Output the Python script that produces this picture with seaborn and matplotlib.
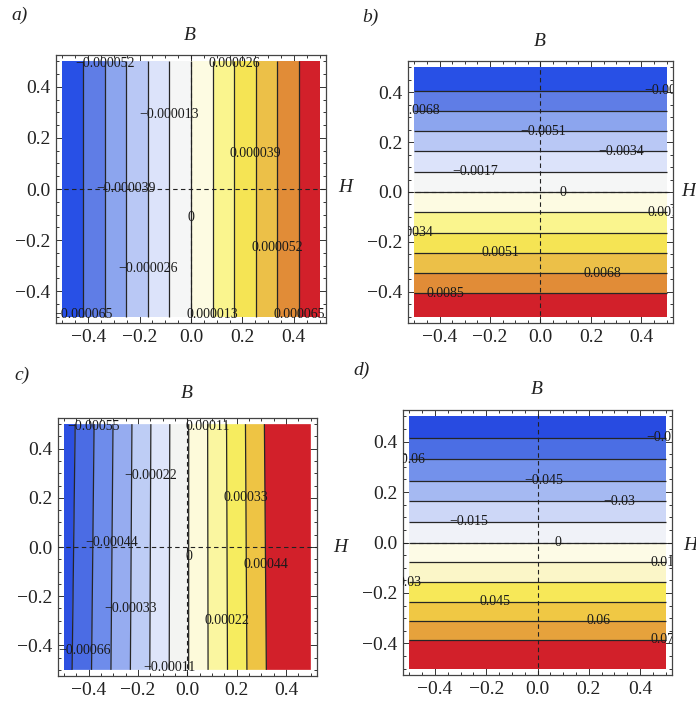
import numpy as np
import matplotlib
matplotlib.use("Agg")
import matplotlib.pyplot as plt
import seaborn as sns
from matplotlib.ticker import MultipleLocator, FuncFormatter

sns.set_theme(style="white")
plt.rcParams['font.family'] = ['Liberation Serif', 'DejaVu Serif']
plt.rcParams['axes.unicode_minus'] = True

# ---------------- data ----------------
# panel a: field on a coarse H x B grid (rows = B)
A_H = [-0.5, 0.5]
A_B = [-0.5, 0.5]
A_Z = [[-0.0000774, 0.0000774],
       [-0.0000774, 0.0000774]]
A_LEVELS = [-0.000065, -0.000052, -0.000039, -0.000026, -0.000013, 0.0,
            0.000013, 0.000026, 0.000039, 0.000052, 0.000065]

# panel b
B_H = [-0.5, 0.5]
B_B = [-0.5, 0.5]
B_Z = [[0.01045, 0.01045],
       [-0.01045, -0.01045]]
B_LEVELS = [-0.0085, -0.0068, -0.0051, -0.0034, -0.0017, 0.0,
            0.0017, 0.0034, 0.0051, 0.0068, 0.0085]

# panel c
C_H = [-0.5, 0.5]
C_B = [-0.5, 0.5]
C_Z = [[-0.000705, 0.000692],
       [-0.000724, 0.000710]]
C_LEVELS = [-0.00066, -0.00055, -0.00044, -0.00033, -0.00022, -0.00011, 0.0,
            0.00011, 0.00022, 0.00033, 0.00044]

# panel d
D_H = [-0.5, 0.5]
D_B = [-0.5, -0.25, 0.0, 0.25, 0.5]
D_Z = [[0.0978, 0.0978],
       [0.0479, 0.0479],
       [0.0, 0.0],
       [-0.0459, -0.0459],
       [-0.0899, -0.0899]]
D_LEVELS = [-0.075, -0.06, -0.045, -0.03, -0.015, 0.0,
            0.015, 0.03, 0.045, 0.06, 0.075]

# ---------------- styles ----------------
A_COLORS = ['#2850e6', '#5f7de6', '#8ca5ee', '#b9c8f5', '#dce3fa', '#f5f6f6',
            '#fdfbe2', '#faf58e', '#f5e454', '#ecc048', '#e18c37', '#d2202a']
B_COLORS = A_COLORS
C_COLORS = ['#2d50e1', '#4b6ce4', '#6e8ceb', '#96acf0', '#becdf5', '#dee5fa',
            '#f3f4f2', '#fdfada', '#faf6a0', '#f6ec5f', '#eec444', '#d2202a']
D_COLORS = ['#284be1', '#4b6ee4', '#7391eb', '#a5b9f2', '#cdd7f7', '#f0f2f8',
            '#fdfbe6', '#fbf6c8', '#f7e858', '#f0c844', '#e6a23c', '#d2202a']

# label anchor points (placement of the contour labels)
A_LAB = [(-0.34, 0.49), (-0.09, 0.29), (0.16, 0.49), (0.245, 0.14), (-0.24, 0.0),
         (0.0, -0.11), (0.34, -0.23), (-0.17, -0.31), (-0.41, -0.49),
         (0.08, -0.49), (0.415, -0.49)]
B_LAB = [(0.5, 0.41), (-0.49, 0.33), (0.01, 0.245), (0.32, 0.165), (-0.26, 0.08),
         (0.09, 0.0), (0.5, -0.08), (-0.5, -0.165), (-0.16, -0.245),
         (0.245, -0.325), (-0.375, -0.405)]
C_LAB = [(-0.38, 0.49), (0.07, 0.49), (-0.155, 0.29), (0.225, 0.2), (-0.31, 0.02),
         (0.0, -0.04), (0.305, -0.07), (-0.235, -0.25), (0.15, -0.3),
         (-0.46, -0.42), (-0.06, -0.49)]
D_LAB = [(0.5, 0.415), (-0.5, 0.33), (0.025, 0.245), (0.32, 0.16), (-0.27, 0.08),
         (0.08, 0.0), (0.5, -0.082), (-0.5, -0.16), (-0.165, -0.236),
         (0.24, -0.312), (0.5, -0.386)]

FIG_W, FIG_H = 696, 705
fig = plt.figure(figsize=(FIG_W / 100, FIG_H / 100), dpi=100)
fig.patch.set_facecolor('white')


def px_rect(left, right, top, bottom):
    return [left / FIG_W, 1 - bottom / FIG_H, (right - left) / FIG_W, (bottom - top) / FIG_H]


def fmt_level(v):
    if abs(v) < 1e-12:
        return "0"
    s = f"{v:.6f}".rstrip('0').rstrip('.')
    return s.replace('-', '\u2212')


def tick_fmt(v, pos):
    if abs(v) < 1e-9:
        return "0.0"
    return f"{v:.1f}".replace('-', '\u2212')


def panel(rect, H, B, Z, levels, colors, labpos, letter, letter_xy, b_xy, h_xy,
          keep_inside=()):
    ax = fig.add_axes(rect)
    Hg, Bg = np.meshgrid(np.asarray(H, float), np.asarray(B, float))
    Zg = np.asarray(Z, float)
    zmax = np.abs(Zg).max() * 1.5
    bounds = [-zmax] + list(levels) + [zmax]
    ax.contourf(Hg, Bg, Zg, levels=bounds, colors=colors, antialiased=True)
    cs = ax.contour(Hg, Bg, Zg, levels=levels, colors='#262626',
                    linewidths=0.9, linestyles='solid')
    ax.axhline(0, color='#222222', lw=0.8, ls=(0, (4, 3)), zorder=3)
    ax.axvline(0, color='#222222', lw=0.8, ls=(0, (4, 3)), zorder=3)
    texts = ax.clabel(cs, levels=levels, inline=False, fmt=fmt_level,
                      fontsize=10, colors='#1a1a1a', manual=labpos)
    for t in texts:
        t.set_rotation(0)
        t.set_clip_on(True)
        t.set_clip_path(ax.patch)
        t.set_zorder(5)
        if t.get_text() in keep_inside:
            x, y = t.get_position()
            t.set_horizontalalignment('left')
            t.set_position((-0.522, y))
    ax.set_xlim(-0.525, 0.525)
    ax.set_ylim(-0.525, 0.525)
    ax.xaxis.set_major_locator(MultipleLocator(0.2))
    ax.yaxis.set_major_locator(MultipleLocator(0.2))
    ax.xaxis.set_minor_locator(MultipleLocator(0.05))
    ax.yaxis.set_minor_locator(MultipleLocator(0.05))
    ax.xaxis.set_major_formatter(FuncFormatter(tick_fmt))
    ax.yaxis.set_major_formatter(FuncFormatter(tick_fmt))
    ax.tick_params(which='both', direction='in', top=True, right=True,
                   bottom=True, left=True, color='#333333', width=0.7)
    ax.tick_params(which='major', length=5, labelsize=14, labelcolor='#222222', pad=4)
    ax.tick_params(which='minor', length=2.5)
    for sp in ax.spines.values():
        sp.set_color('#444444')
        sp.set_linewidth(0.9)
        sp.set_visible(True)
    ax.grid(False)
    fig.text(letter_xy[0] / FIG_W, 1 - letter_xy[1] / FIG_H, letter, fontsize=14,
             style='italic', ha='center', va='center', color='#222222')
    fig.text(b_xy[0] / FIG_W, 1 - b_xy[1] / FIG_H, 'B', fontsize=14,
             style='italic', ha='center', va='center', color='#222222')
    fig.text(h_xy[0] / FIG_W, 1 - h_xy[1] / FIG_H, 'H', fontsize=14,
             style='italic', ha='center', va='center', color='#222222')
    return ax


panel(px_rect(56, 326, 55, 323), A_H, A_B, A_Z, A_LEVELS, A_COLORS, A_LAB,
      'a)', (20, 15), (190, 35), (345, 188))
panel(px_rect(408, 673, 61, 323), B_H, B_B, B_Z, B_LEVELS, B_COLORS, B_LAB,
      'b)', (370, 17), (540, 42), (688, 192))
panel(px_rect(58, 317, 418, 676), C_H, C_B, C_Z, C_LEVELS, C_COLORS, C_LAB,
      'c)', (22, 375), (187, 394), (340, 548), keep_inside=('\u22120.00066',))
panel(px_rect(403, 672, 410, 675), D_H, D_B, D_Z, D_LEVELS, D_COLORS, D_LAB,
      'd)', (362, 370), (537, 389), (690, 545))

fig.savefig("out.png", dpi=100, facecolor='white')
